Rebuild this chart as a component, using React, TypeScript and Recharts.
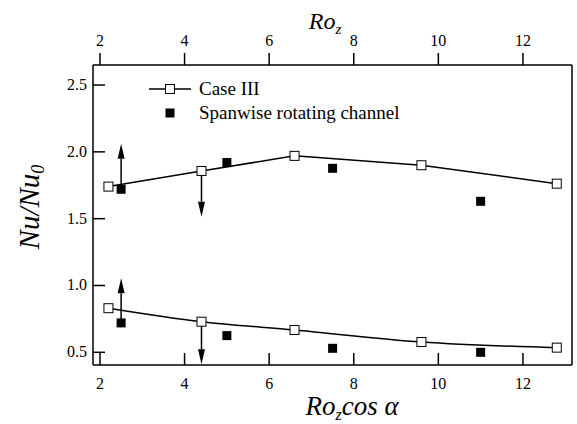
import React from 'react';
import { ComposedChart, Line, Scatter, XAxis, YAxis, ReferenceLine, Legend } from 'recharts';

// Case III (open squares, joined by a line)
const caseX = [2.2, 4.4, 6.6, 9.6, 12.8];
const caseUpper = [1.74, 1.857, 1.97, 1.9, 1.762];
const caseLower = [0.83, 0.729, 0.667, 0.577, 0.535];

// Spanwise rotating channel (filled squares)
const spanX = [2.5, 5.0, 7.5, 11.0];
const spanUpper = [1.72, 1.92, 1.877, 1.63];
const spanLower = [0.72, 0.625, 0.53, 0.5];

// vertical arrows
const arrowX = [2.5, 4.4, 2.5, 4.4];
const arrowFrom = [1.72, 1.857, 0.72, 0.729];
const arrowTo = [2.06, 1.515, 1.055, 0.41];

const xTicks = [2, 4, 6, 8, 10, 12];
const yTicks = [0.5, 1.0, 1.5, 2.0, 2.5];

const FONT = 'Liberation Serif, serif';

const upperData = caseX.map((x, i) => ({ x, y: caseUpper[i] }));
const lowerData = caseX.map((x, i) => ({ x, y: caseLower[i] }));
const spanData = [
  ...spanX.map((x, i) => ({ x, y: spanUpper[i] })),
  ...spanX.map((x, i) => ({ x, y: spanLower[i] })),
];

const OpenSquare = (p: any) => (
  <rect key={p.index} x={p.cx - 4.5} y={p.cy - 4.5} width={9} height={9} fill="#fff" stroke="#000" strokeWidth={1} />
);

const FilledSquare = (p: any) => (
  <rect x={p.cx - 4.5} y={p.cy - 4.5} width={9} height={9} fill="#000" />
);

const Arrow = (p: any) => {
  const { x1, y1, x2, y2 } = p;
  const dir = y2 < y1 ? 1 : -1;
  const head = 15;
  const half = 3.5;
  const baseY = y2 + dir * head;
  return (
    <g>
      <line x1={x1} y1={y1} x2={x2} y2={baseY} stroke="#000" strokeWidth={1.5} />
      <polygon points={`${x2},${y2} ${x2 - half},${baseY} ${x2 + half},${baseY}`} fill="#000" />
    </g>
  );
};

// tick label in the serif face; anchor comes from the axis
const SerifTick = (p: any) => {
  const { x, y, payload, textAnchor, fmt, dy } = p;
  return (
    <text x={x} y={y} dy={dy} textAnchor={textAnchor} fontFamily={FONT} fontSize={16} fill="#000">
      {fmt ? fmt(payload.value) : payload.value}
    </text>
  );
};

const LegendBox = () => (
  <div style={{ fontFamily: FONT, fontSize: 19, color: '#000', lineHeight: '24px' }}>
    <div style={{ display: 'flex', alignItems: 'center' }}>
      <svg width={42} height={24} style={{ marginRight: 8 }}>
        <line x1={0} y1={12} x2={42} y2={12} stroke="#000" strokeWidth={1.5} />
        <rect x={16.5} y={7.5} width={9} height={9} fill="#fff" stroke="#000" />
      </svg>
      Case III
    </div>
    <div style={{ display: 'flex', alignItems: 'center' }}>
      <svg width={42} height={24} style={{ marginRight: 8 }}>
        <rect x={16.5} y={7.5} width={9} height={9} fill="#000" />
      </svg>
      Spanwise rotating channel
    </div>
  </div>
);

export default function App() {
  return (
    <div style={{ position: 'absolute', left: 0, top: 0, background: '#fff', fontFamily: FONT }}>
      <ComposedChart width={577} height={424} margin={{ top: 0, right: 0, bottom: 0, left: 0 }} style={{ fontFamily: FONT }}>
        <XAxis
          xAxisId="bottom"
          dataKey="x"
          type="number"
          orientation="bottom"
          domain={[1.835, 13.16]}
          ticks={xTicks}
          height={59}
          tickSize={-12}
          tickMargin={24}
          tick={<SerifTick dy={12} />}
          stroke="#000"
          strokeWidth={1.5}
          allowDataOverflow
          label={{
            content: () => (
              <text x={352} y={415} textAnchor="middle" fontFamily={FONT} fontStyle="italic" fontSize={27} fill="#000">
                <tspan>Ro</tspan>
                <tspan dy={5} fontSize={16}>z</tspan>
                <tspan dy={-5}>cos α</tspan>
              </text>
            ),
          }}
        />
        <XAxis
          xAxisId="top"
          dataKey="x"
          type="number"
          orientation="top"
          domain={[1.835, 13.16]}
          ticks={xTicks}
          height={65}
          tickSize={12}
          tickMargin={7}
          tick={<SerifTick dy={0} />}
          stroke="#000"
          strokeWidth={1.5}
          allowDataOverflow
          label={{
            content: () => (
              <text x={325} y={29} textAnchor="middle" fontFamily={FONT} fontStyle="italic" fontSize={24} fill="#000">
                <tspan>Ro</tspan>
                <tspan dy={5} fontSize={15}>z</tspan>
              </text>
            ),
          }}
        />
        <YAxis
          yAxisId="left"
          type="number"
          domain={[0.405, 2.65]}
          ticks={yTicks}
          width={93}
          tickSize={-12}
          tickMargin={18}
          tick={<SerifTick dy={5} fmt={(v: number) => v.toFixed(1)} />}
          stroke="#000"
          strokeWidth={1.5}
          allowDataOverflow
          label={{
            content: () => (
              <text
                x={39}
                y={207}
                transform="rotate(-90 39 207)"
                textAnchor="middle"
                fontFamily={FONT}
                fontStyle="italic"
                fontSize={29}
                fill="#000"
              >
                <tspan>Nu/Nu</tspan>
                <tspan dy={5} fontSize={18}>0</tspan>
              </text>
            ),
          }}
        />
        <YAxis
          yAxisId="right"
          orientation="right"
          type="number"
          domain={[0.405, 2.65]}
          width={5}
          tick={false}
          tickLine={false}
          stroke="#000"
          strokeWidth={1.5}
          allowDataOverflow
        />
        <Legend
          layout="vertical"
          align="center"
          verticalAlign="middle"
          content={<LegendBox />}
          wrapperStyle={{ left: 149, top: 77, width: 300 }}
        />
        <Line
          xAxisId="bottom"
          yAxisId="left"
          data={upperData}
          dataKey="y"
          type="linear"
          stroke="#000"
          strokeWidth={1.5}
          dot={OpenSquare}
          isAnimationActive={false}
          legendType="none"
        />
        <Line
          xAxisId="bottom"
          yAxisId="left"
          data={lowerData}
          dataKey="y"
          type="monotone"
          stroke="#000"
          strokeWidth={1.5}
          dot={OpenSquare}
          isAnimationActive={false}
          legendType="none"
        />
        <Scatter
          xAxisId="bottom"
          yAxisId="left"
          data={spanData}
          dataKey="y"
          shape={FilledSquare}
          isAnimationActive={false}
          legendType="none"
        />
        {arrowX.map((x, i) => (
          <ReferenceLine
            key={i}
            xAxisId="bottom"
            yAxisId="left"
            segment={[
              { x, y: arrowFrom[i] },
              { x, y: arrowTo[i] },
            ]}
            shape={Arrow}
            ifOverflow="visible"
          />
        ))}
      </ComposedChart>
    </div>
  );
}
